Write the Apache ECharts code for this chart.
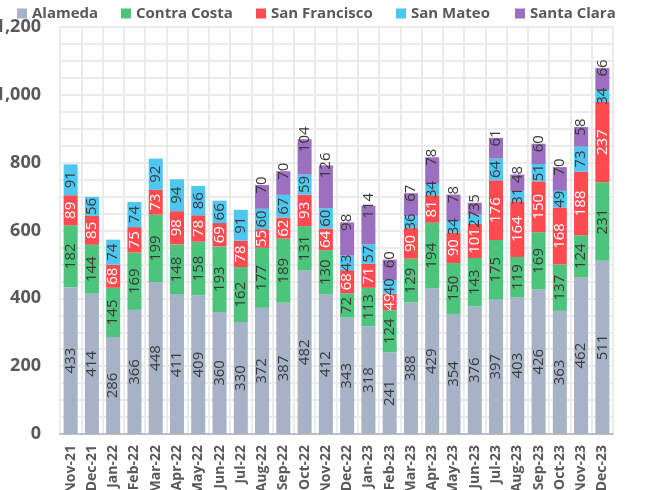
<!DOCTYPE html>
<html lang="en">
<head>
    <meta charset="utf-8">
    <title>Bay Area counties by month</title>
    <script src="https://cdn.jsdelivr.net/npm/echarts@6/dist/echarts.min.js"></script>
    <style>
        html, body { margin: 0; padding: 0; background: #fff; }
        #main { width: 645px; height: 490px; }
    </style>
</head>
<body>
<div id="main"></div>
<script>
    var months = ['Nov-21', 'Dec-21', 'Jan-22', 'Feb-22', 'Mar-22', 'Apr-22', 'May-22', 'Jun-22', 'Jul-22',
        'Aug-22', 'Sep-22', 'Oct-22', 'Nov-22', 'Dec-22', 'Jan-23', 'Feb-23', 'Mar-23', 'Apr-23', 'May-23',
        'Jun-23', 'Jul-23', 'Aug-23', 'Sep-23', 'Oct-23', 'Nov-23', 'Dec-23'];

    var alameda = [433, 414, 286, 366, 448, 411, 409, 360, 330, 372, 387, 482, 412, 343, 318, 241, 388, 429, 354,
        376, 397, 403, 426, 363, 462, 511];
    var contraCosta = [182, 144, 145, 169, 199, 148, 158, 193, 162, 177, 189, 131, 130, 72, 113, 124, 129, 194, 150,
        143, 175, 119, 169, 137, 124, 231];
    var sanFrancisco = [89, 85, 68, 75, 73, 98, 78, 69, 78, 55, 62, 93, 64, 68, 71, 49, 90, 81, 90,
        101, 176, 164, 150, 168, 188, 237];
    var sanMateo = [91, 56, 74, 74, 92, 94, 86, 66, 91, 60, 67, 59, 60, 43, 57, 40, 36, 34, 34,
        27, 64, 31, 51, 49, 73, 34];
    // no Santa Clara figures before Aug-22
    var santaClara = [null, null, null, null, null, null, null, null, null, 70, 70, 104, 126, 98, 114, 60, 67, 78, 78,
        35, 61, 48, 60, 70, 58, 66];

    var counties = ['Alameda', 'Contra Costa', 'San Francisco', 'San Mateo', 'Santa Clara'];
    var yTicks = [0, 200, 400, 600, 800, 1000, 1200];

    var font = '"Open Sans", "DejaVu Sans", sans-serif';

    function bar(name, data, color, labelColor) {
        return {
            name: name,
            type: 'bar',
            stack: 'total',
            barWidth: '66%',
            data: data,
            itemStyle: {color: color},
            label: {
                show: true,
                position: 'inside',
                rotate: 90,
                color: labelColor,
                fontFamily: font,
                fontSize: 15
            }
        };
    }

    // one legend per county so each sits where the original has it
    var legendLeft = [12, 116, 251, 391, 510];
    var legends = counties.map(function (name, i) {
        return {
            data: [name],
            left: legendLeft[i],
            top: 1,
            itemWidth: 10,
            itemHeight: 10,
            icon: 'rect',
            textStyle: {color: '#595959', fontFamily: font, fontSize: 15, fontWeight: 'bold'}
        };
    });

    var myChart = echarts.init(document.getElementById('main'));

    var series = [
        bar(counties[0], alameda, '#a6b2c6', '#3a3a3a'),
        bar(counties[1], contraCosta, '#4dc47c', '#3a3a3a'),
        bar(counties[2], sanFrancisco, '#ff4b4f', '#ffffff'),
        bar(counties[3], sanMateo, '#4dc7f2', '#3a3a3a'),
        bar(counties[4], santaClara, '#9d6fc0', '#3a3a3a')
    ];
    // top series: label sits on the top edge of the stack
    series[4].label.position = 'top';
    series[4].label.distance = 0;
    series[4].label.align = 'center';
    series[4].label.verticalAlign = 'middle';

    var option = {
        animation: false,
        backgroundColor: '#ffffff',
        legend: legends,
        grid: {
            left: 60,
            right: 32,
            top: 27,
            bottom: 56,
            containLabel: false,
            outerBoundsMode: 'none'
        },
        xAxis: {
            type: 'category',
            data: months,
            axisLine: {lineStyle: {color: '#bfbfbf', width: 2}},
            axisTick: {show: false},
            splitLine: {show: true, interval: 0, lineStyle: {color: '#ebebeb', width: 2}},
            axisLabel: {
                interval: 0,
                rotate: 90,
                margin: 11,
                color: '#595959',
                fontFamily: font,
                fontSize: 14,
                fontWeight: 'bold'
            }
        },
        yAxis: {
            type: 'value',
            min: yTicks[0],
            max: yTicks[yTicks.length - 1],
            interval: 200,
            axisLine: {show: false},
            axisTick: {show: false},
            splitLine: {lineStyle: {color: '#ebebeb', width: 2}},
            minorTick: {show: false, splitNumber: 4},
            minorSplitLine: {show: true, lineStyle: {color: '#ebebeb', width: 2}},
            axisLabel: {
                margin: 19,
                color: '#595959',
                fontFamily: font,
                fontSize: 18,
                fontWeight: 'bold',
                formatter: function (v) {
                    return v.toLocaleString('en-US');
                }
            }
        },
        series: series
    };

    myChart.setOption(option);
</script>
</body>
</html>
